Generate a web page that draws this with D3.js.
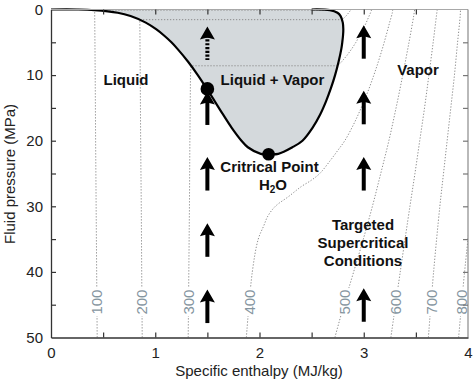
<!DOCTYPE html>
<html>
<head>
<meta charset="utf-8">
<script src="https://cdn.jsdelivr.net/npm/d3@7"></script>
<style>
  body { margin: 0; background: #fff; }
  svg { display: block; font-family: "Liberation Sans", Arial, Helvetica, sans-serif; }
</style>
</head>
<body>
<div id="showBox"></div>
<script>
// saturation curve of water, [enthalpy MJ/kg, pressure MPa]
const satLiquid = [[0, 0], [0.25, 0], [0.417, 0.1], [0.640, 0.5], [0.763, 1], [0.909, 2], [1.008, 3],
  [1.087, 4], [1.155, 5], [1.213, 6], [1.317, 8], [1.408, 10], [1.491, 12], [1.571, 14],
  [1.650, 16], [1.732, 18], [1.827, 20], [1.888, 21], [2.012, 22]];
const criticalPoint = [2.087, 22.064];
const satVapor = [[2.18, 22], [2.316, 21], [2.412, 20], [2.510, 18], [2.582, 16], [2.638, 14],
  [2.685, 12], [2.725, 10], [2.758, 8], [2.785, 6], [2.794, 5], [2.801, 4], [2.804, 3],
  [2.799, 2], [2.778, 1], [2.748, 0.5], [2.675, 0.1], [2.5, 0]];
const liquidDot = [1.5, 12.1];

// isotherms (deg C), [enthalpy, pressure]
const isoTemps = [100, 200, 300, 400, 500, 600, 700, 800];
const iso100 = [[0.443, 50], [0.438, 40], [0.433, 30], [0.428, 20], [0.424, 10], [0.419, 0.1], [2.676, 0.1], [2.68, 0]];
const iso200 = [[0.875, 50], [0.870, 40], [0.866, 30], [0.860, 20], [0.856, 10], [0.852, 1.55], [2.793, 1.55],
  [2.83, 1.0], [2.855, 0.5], [2.875, 0.1], [2.876, 0]];
const iso300 = [[1.316, 50], [1.322, 40], [1.328, 30], [1.332, 20], [1.338, 10], [1.344, 8.58], [2.749, 8.58],
  [2.786, 8], [2.839, 7], [2.885, 6], [2.925, 5], [2.961, 4], [2.994, 3], [3.024, 2], [3.051, 1], [3.065, 0.5], [3.076, 0]];
const iso400 = [[1.874, 50], [1.931, 40], [1.988, 35], [2.04, 33], [2.08, 31.5], [2.152, 30], [2.28, 28.5],
  [2.40, 27], [2.50, 26], [2.578, 25], [2.68, 23], [2.75, 21.5], [2.818, 20], [2.903, 17.5], [2.975, 15],
  [3.04, 12.5], [3.097, 10], [3.139, 8], [3.178, 6], [3.214, 4], [3.248, 2], [3.274, 0.5], [3.278, 0]];
const iso500 = [[2.723, 50], [2.81, 45], [2.903, 40], [2.996, 35], [3.083, 30], [3.163, 25], [3.241, 20],
  [3.310, 15], [3.374, 10], [3.434, 5], [3.479, 1], [3.488, 0]];
const iso600 = [[3.26, 50], [3.35, 40], [3.443, 30], [3.491, 25], [3.537, 20], [3.583, 15], [3.625, 10],
  [3.666, 5], [3.697, 1], [3.705, 0]];
const iso700 = [[3.62, 50], [3.67, 40], [3.73, 30], [3.765, 25], [3.80, 20], [3.835, 15], [3.87, 10],
  [3.90, 5], [3.925, 1], [3.928, 0]];
const iso800 = [[3.91, 50], [3.955, 42], [3.98, 38], [4.0, 35], [4.05, 28]];
const isotherms = [iso100, iso200, iso300, iso400, iso500, iso600, iso700, iso800];

// upward arrows, tip positions [enthalpy, pressure]
const arrowsSolid = [[1.5, 12.5], [1.5, 22.5], [1.5, 32.6], [1.5, 42.7],
  [3.0, 2.4], [3.0, 12.4], [3.0, 22.5], [3.0, 42.5]];
const arrowsDashed = [[1.5, 2.6]];
const arrowLen = 5.1; // MPa

const xTicks = [0, 0.5, 1, 1.5, 2, 2.5, 3, 3.5, 4];
const yTicks = [0, 5, 10, 15, 20, 25, 30, 35, 40, 45, 50];

const width = 474, height = 379;
const x = d3.scaleLinear().domain([0, 4]).range([51, 468]);
const y = d3.scaleLinear().domain([0, 50]).range([9.5, 337.5]);

const svg = d3.select("#showBox").append("svg")
  .attr("width", width).attr("height", height);

svg.append("defs").append("clipPath").attr("id", "plot")
  .append("rect").attr("x", x(0)).attr("y", y(0))
  .attr("width", x(4) - x(0)).attr("height", y(50) - y(0));

const smooth = d3.line().x(d => x(d[0])).y(d => y(d[1])).curve(d3.curveCatmullRom.alpha(0.5));
const straight = d3.line().x(d => x(d[0])).y(d => y(d[1]));

const dome = satLiquid.concat([criticalPoint], satVapor);

// two-phase region
svg.append("path")
  .attr("d", smooth(dome) + "Z")
  .attr("fill", "#d4d9dc");

// isotherms
svg.append("g").attr("clip-path", "url(#plot)")
  .selectAll("path")
  .data(isotherms)
  .join("path")
  .attr("d", (d, i) => isoTemps[i] <= 300 ? straight(d) : smooth(d))
  .attr("fill", "none")
  .attr("stroke", "#8e8e8e")
  .attr("stroke-width", 1)
  .attr("stroke-dasharray", "1.3 1.7");

// saturation curve
svg.append("path")
  .attr("d", smooth(dome))
  .attr("fill", "none")
  .attr("stroke", "#000")
  .attr("stroke-width", 2.2);

// arrows
function drawArrow(g, d, dashed) {
  const tx = x(d[0]), ty = y(d[1]);
  const by = y(d[1] + arrowLen);
  g.append("line")
    .attr("x1", tx).attr("x2", tx)
    .attr("y1", ty + 9).attr("y2", by)
    .attr("stroke", "#000").attr("stroke-width", 4)
    .attr("stroke-dasharray", dashed ? "2.2 1.6" : null);
  g.append("path")
    .attr("d", `M${tx},${ty} L${tx + 7.5},${ty + 13} L${tx},${ty + 11} L${tx - 7.5},${ty + 13} Z`)
    .attr("fill", "#000");
}
const ga = svg.append("g");
arrowsSolid.forEach(d => drawArrow(ga, d, false));
arrowsDashed.forEach(d => drawArrow(ga, d, true));

// dots
svg.append("circle").attr("cx", x(liquidDot[0])).attr("cy", y(liquidDot[1])).attr("r", 6.8).attr("fill", "#000");
svg.append("circle").attr("cx", x(criticalPoint[0])).attr("cy", y(criticalPoint[1])).attr("r", 6.3).attr("fill", "#000");

// region labels
const lab = svg.append("g")
  .attr("font-weight", "bold").attr("font-size", 15)
  .attr("fill", "#111").attr("text-anchor", "middle");
lab.append("text").attr("x", 126).attr("y", 85).text("Liquid");
lab.append("text").attr("x", 272.5).attr("y", 85).text("Liquid + Vapor");
lab.append("text").attr("x", 418).attr("y", 75).text("Vapor");
lab.append("text").attr("x", 269.5).attr("y", 172).text("Critrical Point");
const h2o = lab.append("text").attr("x", 273).attr("y", 190);
h2o.append("tspan").text("H");
h2o.append("tspan").attr("font-size", 10).attr("dy", 3).text("2");
h2o.append("tspan").attr("dy", -3).text("O");
lab.append("text").attr("x", 363).attr("y", 230).text("Targeted");
lab.append("text").attr("x", 363).attr("y", 248).text("Supercritical");
lab.append("text").attr("x", 363).attr("y", 266).text("Conditions");

// isotherm labels
function hAt(iso, p) {
  for (let i = 0; i < iso.length - 1; i++) {
    const a = iso[i], b = iso[i + 1];
    if ((a[1] - p) * (b[1] - p) <= 0 && a[1] !== b[1]) {
      return a[0] + (b[0] - a[0]) * (p - a[1]) / (b[1] - a[1]);
    }
  }
  return iso[0][0];
}
const labelP = 44.6;
const il = svg.append("g")
  .selectAll("g")
  .data(isoTemps)
  .join("g")
  .attr("transform", (t, i) => `translate(${x(hAt(isotherms[i], labelP))},${y(labelP)}) rotate(-90)`);
il.append("rect")
  .attr("x", -14).attr("y", -7).attr("width", 28).attr("height", 14)
  .attr("fill", "#fff");
il.append("text")
  .attr("text-anchor", "middle").attr("dy", "0.36em")
  .attr("font-size", 15).attr("fill", "#8595a0")
  .text(t => t);

// frame
svg.append("line").attr("x1", x(0)).attr("x2", x(4)).attr("y1", y(0)).attr("y2", y(0))
  .attr("stroke", "#a8a8a8").attr("stroke-width", 1);
svg.append("line").attr("x1", x(4)).attr("x2", x(4)).attr("y1", y(0)).attr("y2", y(50))
  .attr("stroke", "#8a8a8a").attr("stroke-width", 1.2);

const fmtX = d => Number.isInteger(d) ? d : "";
const fmtY = d => d % 10 === 0 ? d : "";

const axB = svg.append("g").attr("transform", `translate(0,${y(50)})`)
  .call(d3.axisBottom(x).tickValues(xTicks).tickFormat(fmtX).tickSizeInner(-5).tickSizeOuter(0).tickPadding(10));
const axL = svg.append("g").attr("transform", `translate(${x(0)},0)`)
  .call(d3.axisLeft(y).tickValues(yTicks).tickFormat(fmtY).tickSizeInner(-5).tickSizeOuter(0).tickPadding(8));
const axT = svg.append("g").attr("transform", `translate(0,${y(0)})`)
  .call(d3.axisTop(x).tickValues(xTicks).tickFormat("").tickSizeInner(-5).tickSizeOuter(0));
const axR = svg.append("g").attr("transform", `translate(${x(4)},0)`)
  .call(d3.axisRight(y).tickValues(yTicks).tickFormat("").tickSizeInner(-5).tickSizeOuter(0));

[axB, axL].forEach(a => {
  a.select(".domain").attr("stroke", "#333").attr("stroke-width", 1.3);
  a.selectAll(".tick line").attr("stroke", "#333").attr("stroke-width", 1.2);
  a.selectAll("text").attr("font-size", 15).attr("fill", "#222")
    .attr("font-family", "'Liberation Sans', Arial, sans-serif");
});
axT.select(".domain").remove();
axR.select(".domain").remove();
axT.selectAll(".tick line").attr("stroke", "#333").attr("stroke-width", 1.2);
axR.selectAll(".tick line").attr("stroke", "#777").attr("stroke-width", 1.2);
axL.selectAll(".tick").filter(d => d === 0 || d === 50).select("line").remove();
axB.selectAll(".tick").filter(d => d === 0 || d === 4).select("line").remove();
axT.selectAll(".tick").filter(d => d === 0 || d === 4).remove();
axR.selectAll(".tick").filter(d => d === 0 || d === 50).remove();

// axis titles
svg.append("text")
  .attr("x", 259).attr("y", 376)
  .attr("text-anchor", "middle").attr("font-size", 15).attr("fill", "#222")
  .text("Specific enthalpy (MJ/kg)");
svg.append("text")
  .attr("transform", `translate(15,174) rotate(-90)`)
  .attr("text-anchor", "middle").attr("font-size", 15).attr("fill", "#222")
  .text("Fluid pressure (MPa)");
</script>
</body>
</html>
